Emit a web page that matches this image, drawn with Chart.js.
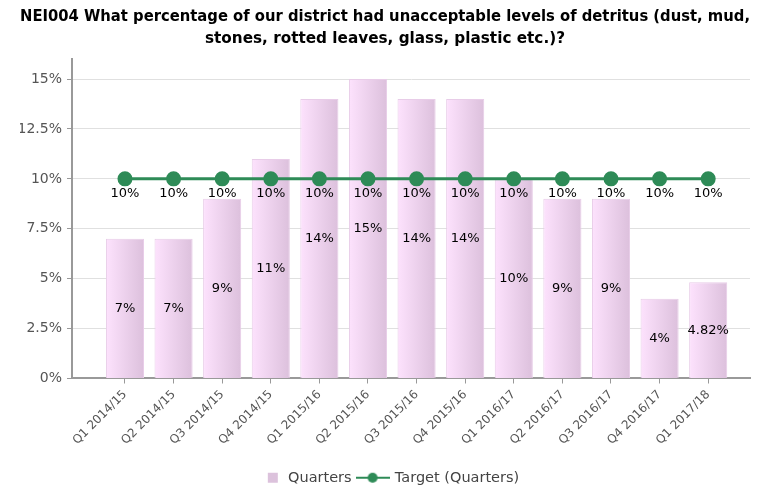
<!DOCTYPE html>
<html>
<head>
<meta charset="utf-8">
<script src="https://cdn.jsdelivr.net/npm/chart.js@4"></script>
<style>
  html, body { margin: 0; padding: 0; background: #fff; }
  #wrap { width: 770px; height: 486px; }
</style>
</head>
<body>
<div id="wrap"><canvas id="chart"></canvas></div>
<script>
const categories = ['Q1 2014/15', 'Q2 2014/15', 'Q3 2014/15', 'Q4 2014/15', 'Q1 2015/16', 'Q2 2015/16',
  'Q3 2015/16', 'Q4 2015/16', 'Q1 2016/17', 'Q2 2016/17', 'Q3 2016/17', 'Q4 2016/17', 'Q1 2017/18'];
const quarters = [7, 7, 9, 11, 14, 15, 14, 14, 10, 9, 9, 4, 4.82];
const target = [10, 10, 10, 10, 10, 10, 10, 10, 10, 10, 10, 10, 10];
const yTicks = [0, 2.5, 5, 7.5, 10, 12.5, 15];

const green = '#2e8b57';

function pct(v) { return v + '%'; }

// legend markers
function legendSquare() {
  const c = document.createElement('canvas');
  c.width = 30; c.height = 12;
  const g = c.getContext('2d');
  g.fillStyle = '#dcc2dc';
  g.fillRect(17, 1, 10, 10);
  return c;
}
function legendLine() {
  const c = document.createElement('canvas');
  c.width = 34; c.height = 12;
  const g = c.getContext('2d');
  g.strokeStyle = green; g.lineWidth = 2;
  g.beginPath(); g.moveTo(0, 6); g.lineTo(34, 6); g.stroke();
  g.fillStyle = green;
  g.beginPath(); g.arc(17, 6, 5, 0, Math.PI * 2); g.fill();
  return c;
}

const valueLabels = {
  id: 'valueLabels',
  afterDatasetsDraw(chart) {
    const ctx = chart.ctx;
    ctx.save();
    ctx.font = '13px "DejaVu Sans", sans-serif';
    ctx.fillStyle = '#000';
    ctx.textAlign = 'center';
    ctx.textBaseline = 'middle';
    chart.getDatasetMeta(0).data.forEach((el, i) => {
      ctx.fillText(pct(quarters[i]), el.x, (el.y + el.base) / 2);
    });
    chart.getDatasetMeta(1).data.forEach((el, i) => {
      ctx.fillText(pct(target[i]), el.x, el.y + 15);
    });
    ctx.restore();
  }
};

const ctx = document.getElementById('chart').getContext('2d');
const myChart = new Chart(ctx, {
  data: {
    datasets: [{
      type: 'bar',
      label: 'Quarters',
      data: quarters.map((v, i) => ({ x: i, y: v })),
      order: 1,
      backgroundColor: function (c) {
        const x = c.chart.scales.x;
        if (!x || c.type !== 'data') return '#eccfec';
        const cx = x.getPixelForValue(c.dataIndex);
        const g = c.chart.ctx.createLinearGradient(cx - 19, 0, cx + 19, 0);
        g.addColorStop(0, '#fde2fd');
        g.addColorStop(1, '#dcc0dc');
        return g;
      },
      borderColor: '#e8cce8',
      borderWidth: 1,
      barPercentage: 0.98,
      categoryPercentage: 0.8
    }, {
      type: 'line',
      label: 'Target (Quarters)',
      data: target.map((v, i) => ({ x: i, y: v })),
      order: 0,
      borderColor: green,
      backgroundColor: green,
      borderWidth: 3,
      pointRadius: 6,
      pointHoverRadius: 6,
      fill: false
    }]
  },
  options: {
    responsive: true,
    maintainAspectRatio: false,
    animation: false,
    layout: { padding: { left: 20, right: 20, top: 0, bottom: -9 } },
    scales: {
      x: {
        type: 'linear',
        offset: false,
        min: -1.09,
        max: 12.86,
        afterBuildTicks: function (scale) {
          scale.ticks = categories.map((_, i) => ({ value: i }));
        },
        afterFit: function (scale) { scale.height = 86; },
        ticks: {
          autoSkip: false,
          maxRotation: 45,
          minRotation: 45,
          color: '#555',
          font: { family: '"DejaVu Sans", sans-serif', size: 12 },
          padding: 4,
          callback: function (value) { return categories[value]; }
        },
        grid: { offset: false, drawOnChartArea: false, drawTicks: true, tickLength: 5, color: '#999' },
        border: { display: true, color: '#999', width: 2 }
      },
      y: {
        min: 0,
        max: 16,
        afterBuildTicks: function (scale) {
          scale.ticks = yTicks.map(v => ({ value: v }));
        },
        afterFit: function (scale) { scale.width = 52; },
        ticks: {
          color: '#555',
          font: { family: '"DejaVu Sans", sans-serif', size: 14 },
          padding: 5,
          callback: function (value) { return pct(value); }
        },
        grid: { color: '#e0e0e0', tickColor: '#999', tickLength: 5 },
        border: { display: true, color: '#999', width: 2 }
      }
    },
    plugins: {
      title: {
        display: true,
        text: ['NEI004 What percentage of our district had unacceptable levels of detritus (dust, mud,',
          'stones, rotted leaves, glass, plastic etc.)?'],
        color: '#000',
        font: { family: '"DejaVu Sans", sans-serif', size: 15.25, weight: 'bold', lineHeight: 1.38 },
        padding: { top: 7, bottom: 10 }
      },
      legend: {
        position: 'bottom',
        labels: {
          color: '#444',
          font: { family: '"DejaVu Sans", sans-serif', size: 14.5 },
          usePointStyle: true,
          pointStyleWidth: 30,
          padding: 6,
          generateLabels: function () {
            return [
              { text: 'Quarters', pointStyle: legendSquare(), fontColor: '#444', datasetIndex: 0, lineWidth: 0, strokeStyle: 'transparent', fillStyle: '#dcc2dc' },
              { text: 'Target (Quarters)', pointStyle: legendLine(), fontColor: '#444', datasetIndex: 1, lineWidth: 0, strokeStyle: 'transparent', fillStyle: green }
            ];
          }
        }
      },
      tooltip: { enabled: false }
    }
  },
  plugins: [valueLabels]
});
</script>
</body>
</html>
